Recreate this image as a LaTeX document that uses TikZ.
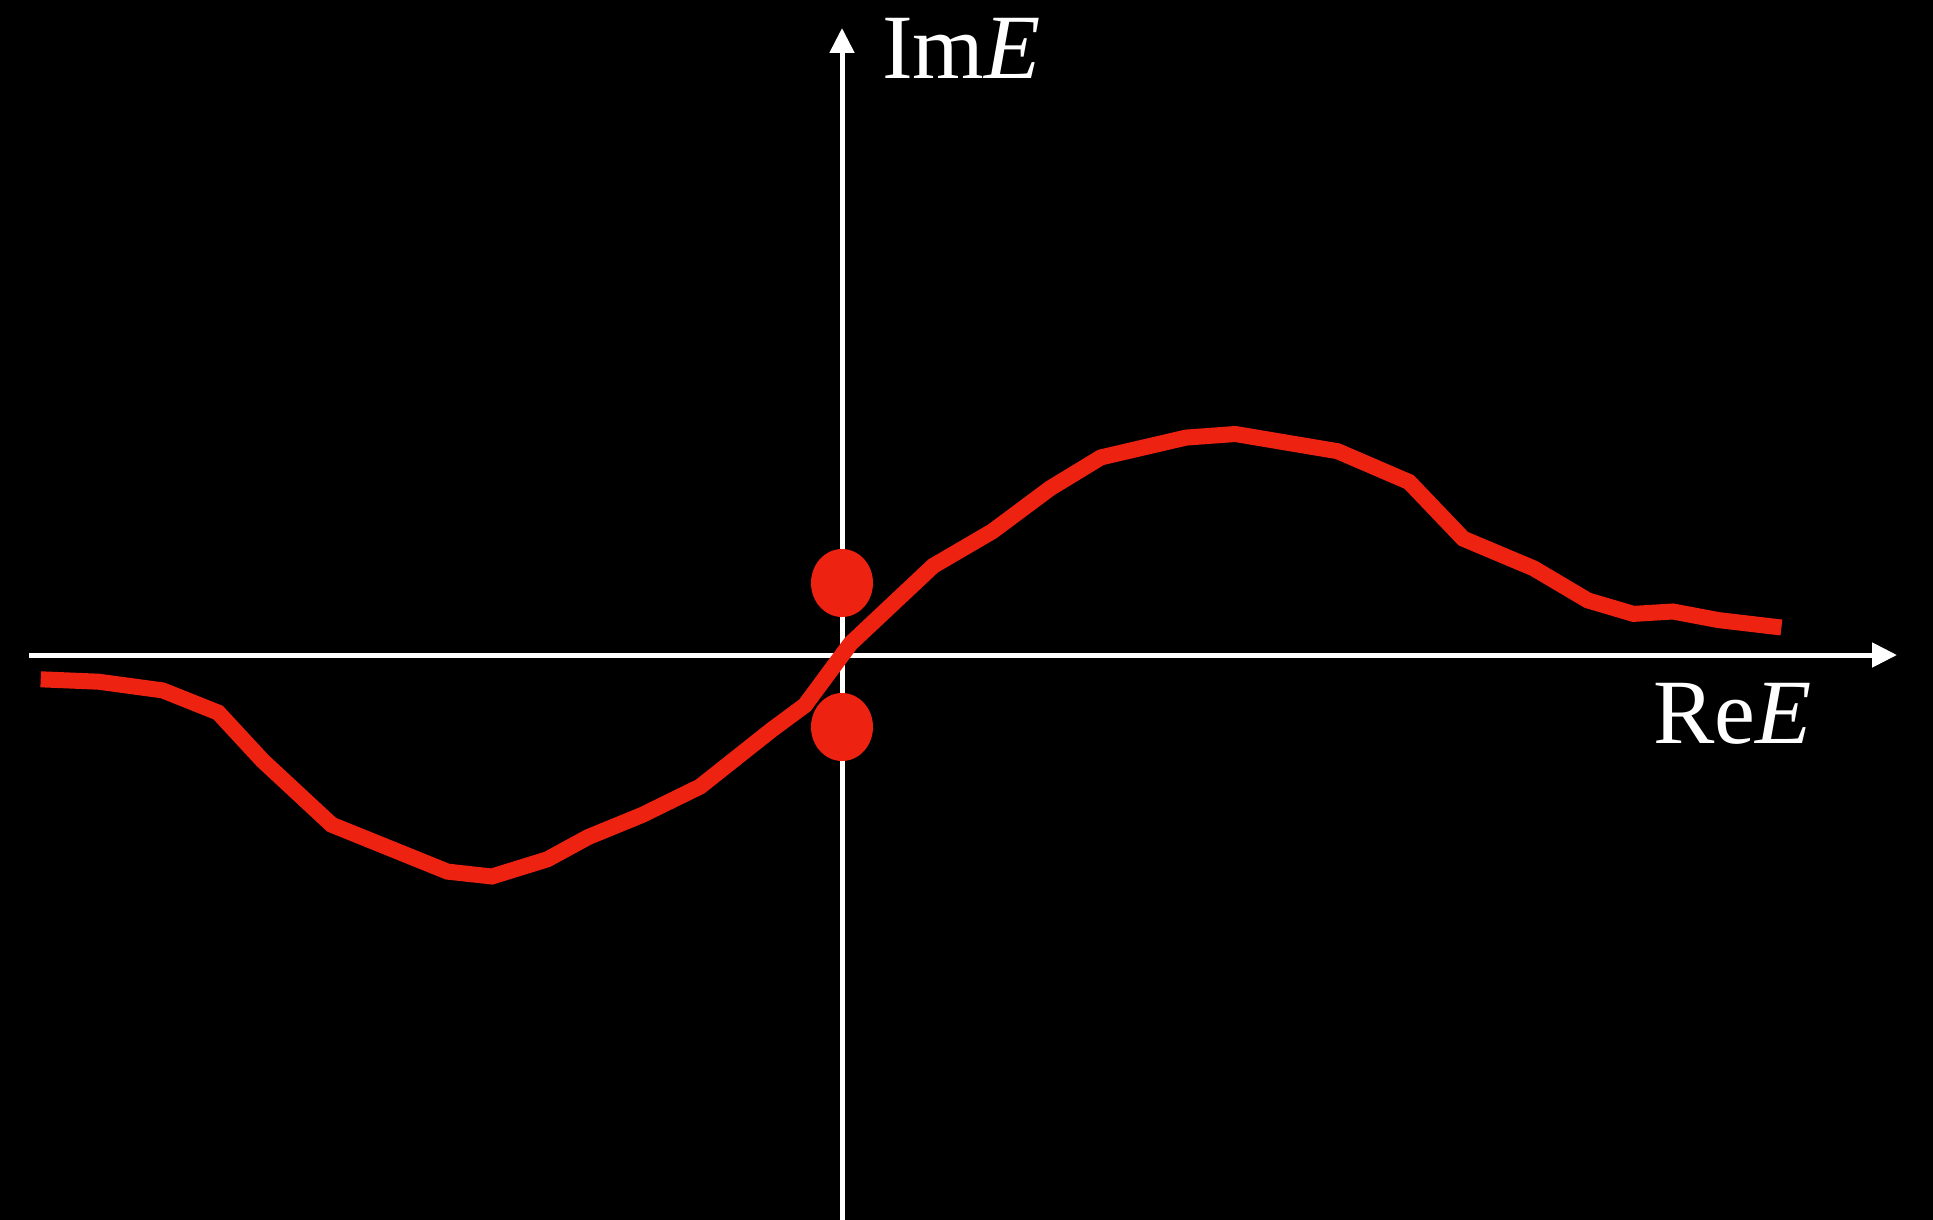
\documentclass[tikz,border=0pt]{standalone}
\usepackage{fontspec}
\setmainfont{Liberation Serif}
\usetikzlibrary{arrows.meta,shapes.geometric}
\definecolor{curvered}{RGB}{238,34,17}
\begin{document}
\begin{tikzpicture}[x=1pt,y=-1pt,
  axis/.style={white,line width=5pt,-{Triangle[length=25pt,width=24pt]}},
  curve/.style={curvered,line width=16pt},
  dot/.style={ellipse,fill=curvered,minimum width=62pt,minimum height=68pt,inner sep=0pt},
  lbl/.style={white,font=\fontsize{92}{100}\selectfont,inner sep=0pt,anchor=base west}]
\fill[black] (0,0) rectangle (1933,1220);
\useasboundingbox (0,0) rectangle (1933,1220);
\coordinate (xs) at (29,655);
\coordinate (xe) at (1897,655);
\coordinate (ys) at (842,1220);
\coordinate (ye) at (842,28);
\draw[axis] (xs) -- (xe);
\draw[axis] (ys) -- (ye);
\draw[curve] (40.7,679.3) -- (98.6,681.7) -- (162.7,690.4) -- (218.2,712.6) -- (262.6,760.6)
 -- (331.6,824.7) -- (447.5,871.6) -- (491.9,876.5) -- (547.4,859.3) -- (588.1,837.1)
 -- (642.3,814.9) -- (700.2,786.5) -- (771.7,729.8) -- (805.0,705.2) -- (850.6,643.5)
 -- (933.2,565.9) -- (992.4,531.3) -- (1050.3,488.2) -- (1100.9,457.4) -- (1186.0,437.6)
 -- (1235.3,434.0) -- (1337.6,451.2) -- (1409.1,482.0) -- (1463.3,538.7) -- (1533.6,568.3)
 -- (1587.8,600.4) -- (1633.5,613.9) -- (1672.9,611.5) -- (1718.5,620.1) -- (1781.4,627.5);
\node[dot] (d1) at (842,583) {};
\node[dot] (d2) at (842,727) {};
\node[lbl] (im) at (882,79) {Im\textit{E}};
\node[lbl] (re) at (1653,743) {Re\textit{E}};
\end{tikzpicture}
\end{document}
